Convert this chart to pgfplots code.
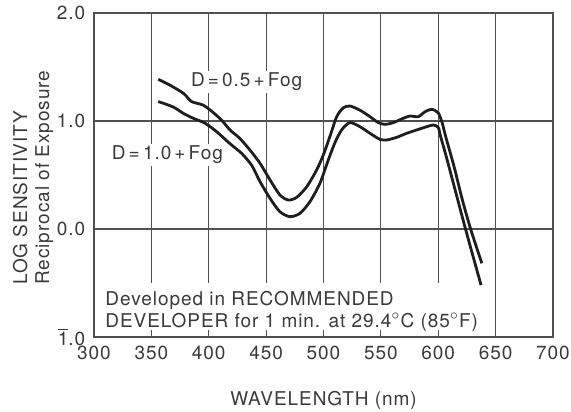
\documentclass[border=0pt]{standalone}
\usepackage{pgfplots}
\pgfplotsset{compat=1.18}
\usepackage{fontspec}
\setmainfont{TeX Gyre Heros}[LetterSpace=5.0]
\definecolor{txt}{HTML}{3A3A3A}
\definecolor{crv}{HTML}{1E1E1E}
\definecolor{grd}{HTML}{505050}
\begin{document}
\fontsize{9.5pt}{11pt}\selectfont
\begin{tikzpicture}
\useasboundingbox (-47pt,-37pt) rectangle (238.5pt,168.5pt);
\begin{axis}[
  scale only axis,
  width=229.5pt, height=162pt,
  xmin=300, xmax=700, ymin=-1, ymax=2,
  xtick={300,350,400,450,500,550,600,650,700},
  xticklabels={300,350,400,450,500,550,600,650,700},
  ytick={-1,0,1,2},
  yticklabels={$\overline{\mbox{1}}$.0,0.0,1.0,2.0},
  major tick length=0pt,
  grid=major,
  grid style={grd, line width=0.6pt},
  axis line style={grd, line width=0.9pt},
  ticklabel style={font=\fontsize{9.5pt}{11pt}\selectfont, text=txt},
  xticklabel style={yshift=-1pt},
  yticklabel style={xshift=-1pt},
  xlabel={WAVELENGTH (nm)},
  xlabel style={at={(axis description cs:0.5,0)}, anchor=center, yshift=-31.5pt, text=txt},
  ylabel={LOG SENSITIVITY\\Reciprocal of Exposure},
  ylabel style={at={(axis description cs:-0.1329,0.1605)}, anchor=west, align=left, inner sep=0pt, text=txt},
  clip=false,
]
\fill[white] (301,-0.5) rectangle (630,-0.935);
\addplot[crv, line width=1.4pt, smooth, tension=0.45] coordinates {
(356,1.386) (366,1.333) (378,1.256) (385,1.18) (395,1.148) (403,1.086)
(411,1.01) (418.5,0.917) (427,0.84) (436,0.73) (444.7,0.608) (453.4,0.454)
(462,0.315) (469.3,0.268) (476.6,0.293) (485.3,0.39) (494,0.546) (500,0.69)
(506,0.87) (511.5,1.04) (517,1.12) (523,1.139) (531.8,1.10) (540.5,1.04)
(547.8,0.985) (553.6,0.969) (560.8,0.985) (569.5,1.025) (575.4,1.046)
(582.6,1.04) (588.5,1.086) (594.3,1.108) (600,1.075) (603.5,0.98) (606.5,0.855)
(613.8,0.577) (621,0.27) (628.5,-0.01) (638,-0.318)
};
\addplot[crv, line width=1.4pt, smooth, tension=0.45] coordinates {
(356,1.18) (369,1.13) (378,1.07) (386.5,1.025) (396.7,0.98) (407,0.90)
(418.5,0.79) (428.7,0.70) (437.4,0.59) (444.7,0.438) (453.4,0.284)
(462,0.16) (470.8,0.114) (479.5,0.145) (488.2,0.253) (496.9,0.423)
(503.5,0.62) (510,0.80) (516,0.92) (523,0.985) (531.8,0.947) (540.5,0.886)
(549.2,0.83) (555,0.824) (563.8,0.849) (572.5,0.886) (581.2,0.917)
(589.9,0.947) (595.7,0.963) (600,0.94) (602.1,0.855) (607,0.67)
(615.5,0.33) (624,-0.01) (637.3,-0.52)
};
\node[text=txt, fill=white, inner sep=1pt] at (433,1.36) {D{\,}={\,}0.5{\,}+{\,}Fog};
\node[text=txt, fill=white, inner sep=1pt] at (364,0.685) {D{\,}={\,}1.0{\,}+{\,}Fog};
\node[text=txt, inner sep=0pt, anchor=west, align=left] at (309.6,-0.76)
  {Developed in RECOMMENDED\\DEVELOPER for 1 min. at 29.4$^\circ$C (85$^\circ$F)};
\end{axis}
\end{tikzpicture}
\end{document}
